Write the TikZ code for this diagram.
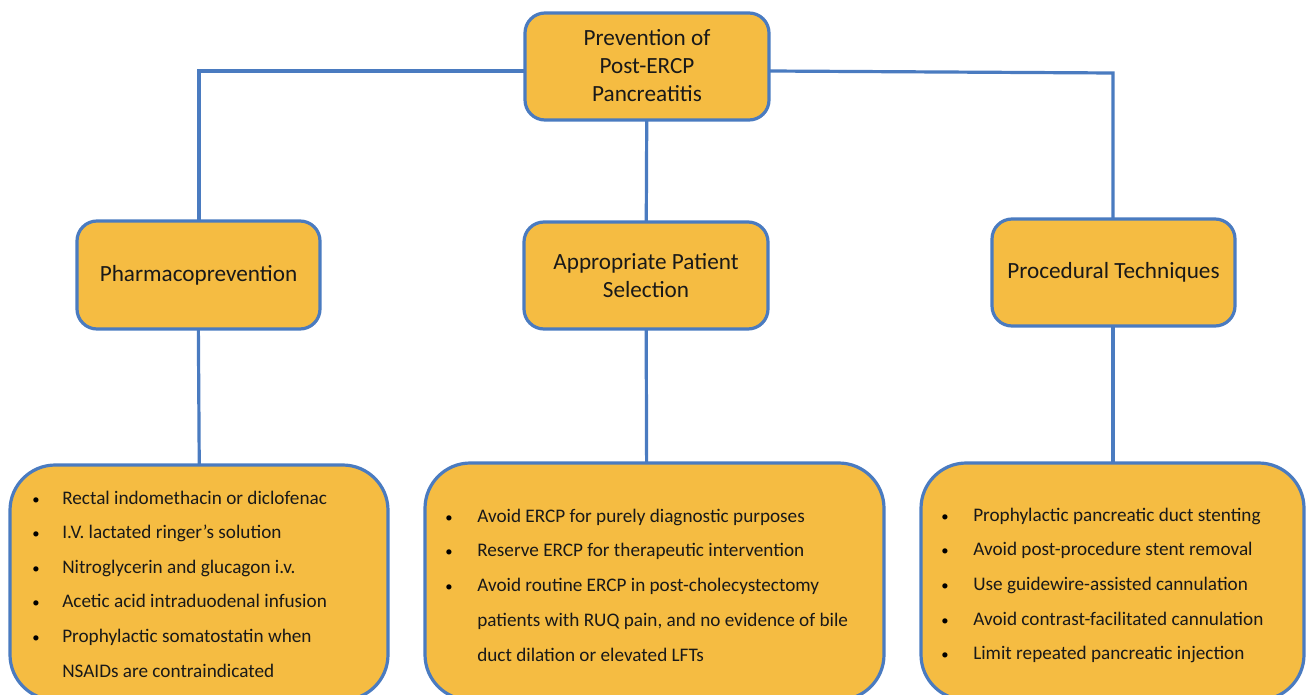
\documentclass[tikz,border=0pt]{standalone}
\usepackage{fontspec}
\setmainfont{Carlito}
\definecolor{boxfill}{HTML}{F5BC42}
\definecolor{boxline}{HTML}{4A7BC0}
\begin{document}
\begin{tikzpicture}[x=0.75pt,y=-0.75pt,
  conn/.style={draw=boxline,line width=2.4pt},
  headbox/.style={draw=boxline,fill=boxfill,line width=2.4pt,rounded corners=15pt},
  listbox/.style={draw=boxline,fill=boxfill,line width=2.4pt,rounded corners=34pt},
  headtext/.style={font=\fontsize{17.4}{21}\selectfont,align=center,text=black!90},
  itemtext/.style={font=\fontsize{14.4}{16}\selectfont,anchor=base west,inner sep=0pt,text=black!90},
  bul/.style={font=\fontsize{11}{12}\selectfont,anchor=base,inner sep=0pt,text=black}]
\useasboundingbox (0,0) rectangle (1306,695);
\begin{scope}
\clip (0,0) rectangle (1306,695);
% connectors first (behind boxes)
\coordinate (tlx) at (600,71);
\coordinate (trx) at (700,71);
\coordinate (tl) at (199,71);
\coordinate (tr) at (1113,73);
\draw[conn] (tlx) -- (tl) -- (199,275);
\draw[conn] (trx) -- (769,71) -- (tr) -- (1113,272);
\draw[conn] (647,66) -- (646,275);
\draw[conn] (198,275) -- (200,580);
\draw[conn] (646,275) -- (647,580);
\draw[conn] (1113,272) -- (1113,580);
% boxes
\draw[headbox] (525,13) rectangle (769,120);
\node[headtext] (top) at (647,66) {Prevention of\\Post-ERCP\\Pancreatitis};
\draw[headbox] (77,221) rectangle (320,329);
\node[headtext] (ph) at (198.5,275) {Pharmacoprevention};
\draw[headbox] (524,222) rectangle (768,329);
\node[headtext] (ap) at (646,276) {Appropriate Patient\\Selection};
\draw[headbox] (992,219) rectangle (1235,326);
\node[headtext] (pt) at (1113.5,272) {Procedural Techniques};
\draw[listbox] (10,465) rectangle (388,700);
\draw[listbox] (425,463) rectangle (884,700);
\draw[listbox] (921,463) rectangle (1304,700);
% left list
\foreach \t [count=\i] in {Rectal indomethacin or diclofenac,I.V. lactated ringer’s solution,Nitroglycerin and glucagon i.v.,Acetic acid intraduodenal infusion,Prophylactic somatostatin when}{
  \node[bul] (lb\i) at (36,{498+34.6*(\i-1)+6}) {•};
  \node[itemtext] (lt\i) at (62,{498+34.6*(\i-1)+6}) {\t};
}
\node[itemtext] (lt6) at (62,677) {NSAIDs are contraindicated};
% middle list
\foreach \t [count=\i] in {Avoid ERCP for purely diagnostic purposes,Reserve ERCP for therapeutic intervention,Avoid routine ERCP in post-cholecystectomy}{
  \node[bul] (mb\i) at (449,{516+34.7*(\i-1)+6}) {•};
  \node[itemtext] (mt\i) at (477,{516+34.7*(\i-1)+6}) {\t};
}
\node[itemtext] (mt4) at (477,626) {patients with RUQ pain, and no evidence of bile};
\node[itemtext] (mt5) at (477,661) {duct dilation or elevated LFTs};
% right list
\foreach \t [count=\i] in {Prophylactic pancreatic duct stenting,Avoid post-procedure stent removal,Use guidewire-assisted cannulation,Avoid contrast-facilitated cannulation,Limit repeated pancreatic injection}{
  \node[bul] (rb\i) at (945,{515+34.7*(\i-1)+6}) {•};
  \node[itemtext] (rt\i) at (973,{515+34.7*(\i-1)+6}) {\t};
}
\end{scope}
\end{tikzpicture}
\end{document}
